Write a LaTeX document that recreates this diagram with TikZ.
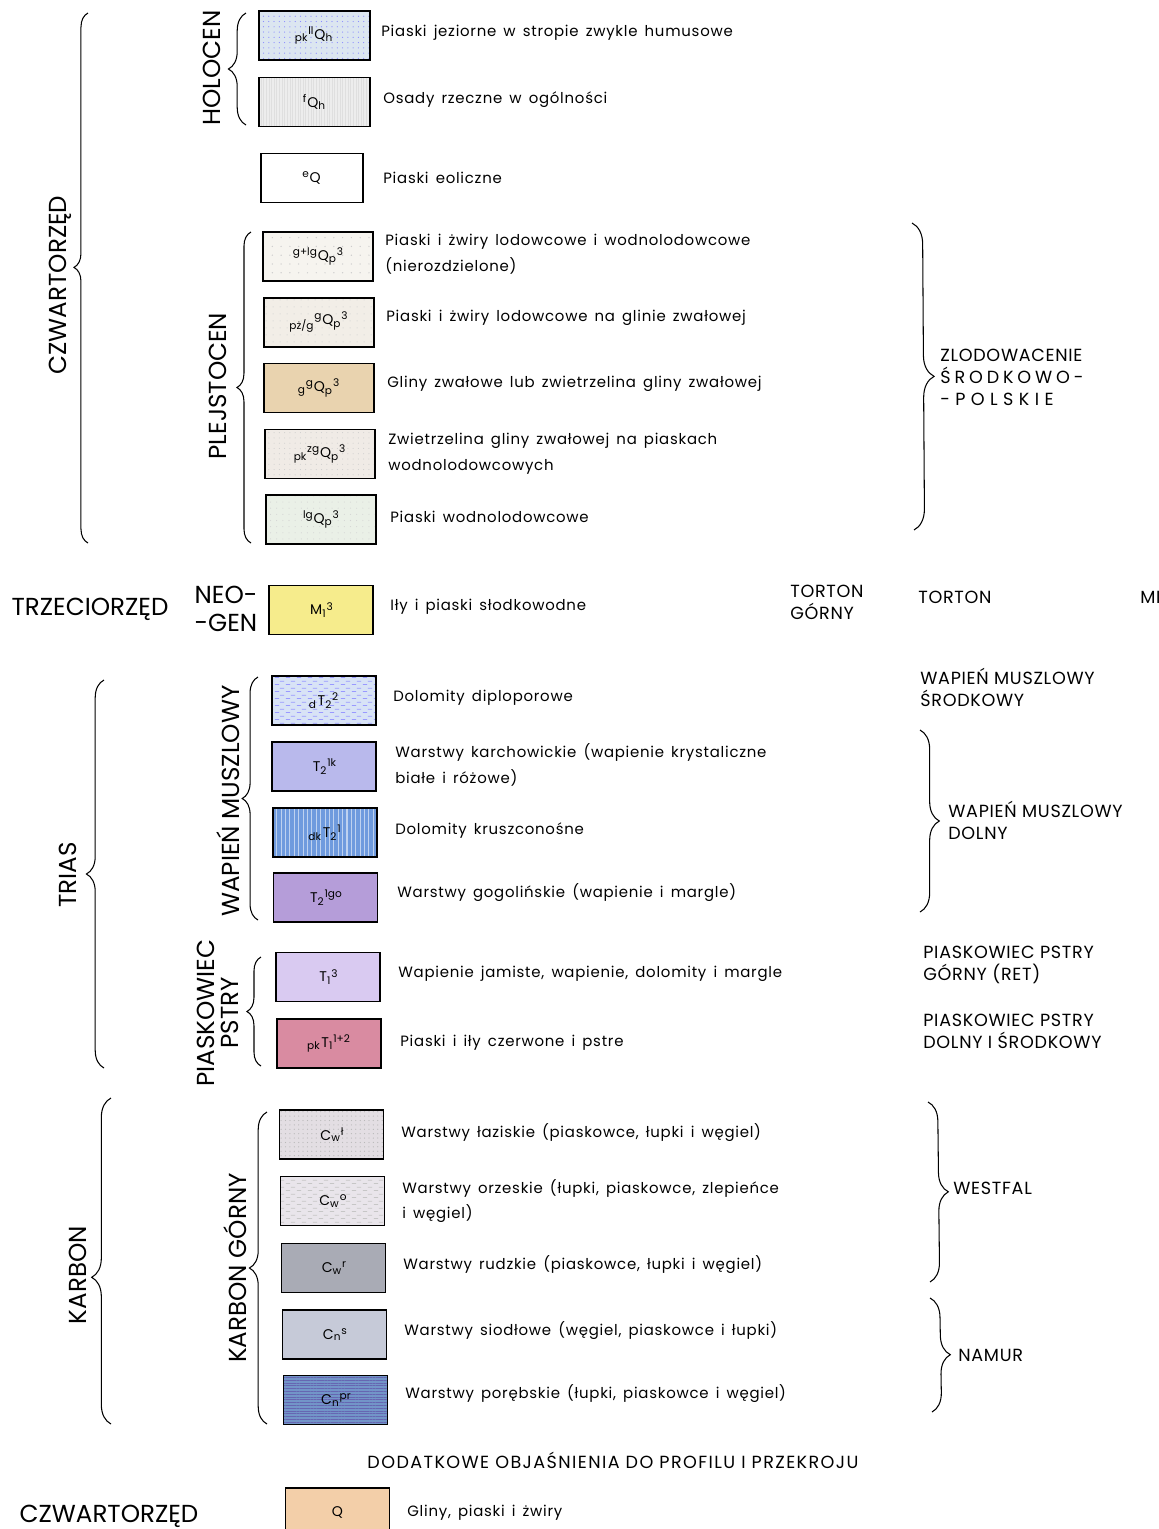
\documentclass[tikz,border=0pt]{standalone}
\usepackage{amsmath}
\usepackage{fontspec}
\setmainfont{Poppins}
\newfontfamily\descfont[LetterSpace=5,WordSpace=1.5]{Poppins}
\usetikzlibrary{decorations.pathreplacing,patterns,patterns.meta}

\definecolor{holoA}{HTML}{DCE6F0}
\definecolor{holoB}{HTML}{EDEDED}
\definecolor{plejA}{HTML}{F6F4EF}
\definecolor{plejB}{HTML}{F2EEE7}
\definecolor{plejC}{HTML}{E9D3AF}
\definecolor{plejD}{HTML}{F0EBE6}
\definecolor{plejE}{HTML}{EAF0E7}
\definecolor{neogen}{HTML}{F6EC8C}
\definecolor{wapA}{HTML}{D8E3F6}
\definecolor{wapB}{HTML}{B9B9EC}
\definecolor{wapC}{HTML}{6F9BDE}
\definecolor{wapD}{HTML}{B59DD9}
\definecolor{pstA}{HTML}{D9CAF1}
\definecolor{pstB}{HTML}{D98BA1}
\definecolor{karA}{HTML}{E3DEE3}
\definecolor{karB}{HTML}{E9E5EB}
\definecolor{karC}{HTML}{A9ABB5}
\definecolor{karD}{HTML}{C6CAD8}
\definecolor{karE}{HTML}{7295C8}
\definecolor{czwQ}{HTML}{F3CFA9}

\pgfdeclarepatternformonly{dashrows}{\pgfpoint{0pt}{0pt}}{\pgfpoint{6pt}{4pt}}{\pgfpoint{6pt}{4pt}}{%
  \pgfsetlinewidth{0.5pt}%
  \pgfpathmoveto{\pgfpoint{0.5pt}{1pt}}\pgfpathlineto{\pgfpoint{3pt}{1pt}}%
  \pgfpathmoveto{\pgfpoint{3.5pt}{3pt}}\pgfpathlineto{\pgfpoint{6pt}{3pt}}%
  \pgfusepath{stroke}}

\newcommand\lab[5]{${}_{\text{#1}}{}^{\text{#2}}\text{#3}_{\text{#4}}{}^{\text{#5}}$}

\begin{document}
\begin{tikzpicture}[x=0.02cm,y=-0.02cm,
    layer/.style={draw,line width=0.8pt,minimum width=2.08cm,minimum height=0.98cm,inner sep=0pt,font=\fontsize{8}{9}\selectfont},
    patt/.style n args={3}{preaction={fill=#1},preaction={pattern=#2,pattern color=#3}},
    desc/.style={anchor=west,inner sep=0pt,align=left,font=\descfont\fontsize{8.5}{14.7}\selectfont},
    era/.style={inner sep=0pt,align=center,font=\fontsize{14}{16}\selectfont},
    stage/.style={anchor=west,inner sep=0pt,align=left,font=\addfontfeatures{LetterSpace=4}\fontsize{10}{12.5}\selectfont},
    lbrace/.style={decorate,decoration={brace,amplitude=#1},line width=0.6pt},
    lbrace/.default=9pt]
\useasboundingbox (0,0) rectangle (1159,1529);

\node[layer,minimum width=2.22cm,patt={holoA}{{Dots[distance=3pt,radius=0.35pt]}}{blue!45}] (hol1) at (314.5,35.5) {\lab{pk}{ll}{Q}{h}{}};
\node[layer,minimum width=2.22cm,patt={holoB}{{Lines[angle=90,distance=1.5pt,line width=0.3pt]}}{gray!25}] (hol2) at (314.5,102) {\lab{}{f}{Q}{h}{}};
\node[layer,minimum width=2.04cm] (eol) at (312,178) {\lab{}{e}{Q}{}{}};
\node[layer,minimum width=2.2cm,patt={plejA}{{Dots[distance=5pt,radius=0.4pt]}}{gray!40}] (plej1) at (318,256.5) {\lab{}{g+lg}{Q}{p}{3}};
\node[layer,minimum width=2.2cm,patt={plejB}{{Dots[distance=4pt,radius=0.35pt]}}{gray!35}] (plej2) at (319,322.5) {\lab{pż/g}{g}{Q}{p}{3}};
\node[layer,minimum width=2.2cm,fill=plejC] (plej3) at (319,388) {\lab{g}{g}{Q}{p}{3}};
\node[layer,minimum width=2.2cm,patt={plejD}{{Dots[distance=3pt,radius=0.3pt]}}{gray!40}] (plej4) at (320,454) {\lab{pk}{zg}{Q}{p}{3}};
\node[layer,minimum width=2.2cm,patt={plejE}{{Dots[distance=3.5pt,radius=0.3pt]}}{gray!35}] (plej5) at (321,519.5) {\lab{}{lg}{Q}{p}{3}};

\node[layer,fill=neogen] (neo) at (321,610) {\lab{}{}{M}{1}{3}};

\node[layer,patt={wapA}{dashrows}{blue!40}] (wap1) at (324,700.5) {\lab{d}{}{T}{2}{2}};
\node[layer,fill=wapB] (wap2) at (324,766.5) {\lab{}{}{T}{2}{1k}};
\node[layer,patt={wapC}{{Lines[angle=90,distance=2.5pt,line width=0.6pt]}}{white!55!wapC}] (wap3) at (325,832.5) {\lab{dk}{}{T}{2}{1}};
\node[layer,fill=wapD] (wap4) at (325.5,897.5) {\lab{}{}{T}{2}{1go}};

\node[layer,fill=pstA] (pst1) at (328,977) {\lab{}{}{T}{1}{3}};
\node[layer,fill=pstB] (pst2) at (329,1043.5) {\lab{pk}{}{T}{1}{1+2}};

\node[layer,patt={karA}{{Dots[distance=2.5pt,radius=0.35pt]}}{gray!55}] (kar1) at (331.5,1134.5) {\lab{}{}{C}{w}{ł}};
\node[layer,patt={karB}{dashrows}{gray!45}] (kar2) at (332.5,1201) {\lab{}{}{C}{w}{o}};
\node[layer,fill=karC] (kar3) at (333.5,1268) {\lab{}{}{C}{w}{r}};
\node[layer,fill=karD] (kar4) at (334.5,1334.5) {\lab{}{}{C}{n}{s}};
\node[layer,patt={karE}{{Lines[angle=0,distance=1.6pt,line width=0.35pt]}}{blue!50!black!60}] (kar5) at (335.5,1400) {\lab{}{}{C}{n}{pr}};

\node[layer,fill=czwQ] (czwq) at (337.5,1512.5) {Q};

\node[desc] (t1) at (381,33) {Piaski jeziorne w stropie zwykle humusowe};
\node[desc] (t2) at (383,100) {Osady rzeczne w ogólności};
\node[desc] (t3) at (383,178) {Piaski eoliczne};
\node[desc] (t4) at (385,254) {Piaski i żwiry lodowcowe i wodnolodowcowe\\(nierozdzielone)};
\node[desc] (t5) at (386,318) {Piaski i żwiry lodowcowe na glinie zwałowej};
\node[desc] (t6) at (387,384) {Gliny zwałowe lub zwietrzelina gliny zwałowej};
\node[desc] (t7) at (388,454) {Zwietrzelina gliny zwałowej na piaskach\\wodnolodowcowych};
\node[desc] (t8) at (390,517) {Piaski wodnolodowcowe};
\node[desc] (t9) at (390,607) {Iły i piaski słodkowodne};
\node[desc] (t10) at (393,698) {Dolomity diploporowe};
\node[desc] (t11) at (395,765) {Warstwy karchowickie (wapienie krystaliczne\\białe i różowe)};
\node[desc] (t12) at (395,831) {Dolomity kruszconośne};
\node[desc] (t13) at (397,893) {Warstwy gogolińskie (wapienie i margle)};
\node[desc] (t14) at (398,974) {Wapienie jamiste, wapienie, dolomity i margle};
\node[desc] (t15) at (400,1043) {Piaski i iły czerwone i pstre};
\node[desc] (t16) at (401,1133) {Warstwy łaziskie (piaskowce, łupki i węgiel)};
\node[desc] (t17) at (402,1201) {Warstwy orzeskie (łupki, piaskowce, zlepieńce\\i węgiel)};
\node[desc] (t18) at (403,1265) {Warstwy rudzkie (piaskowce, łupki i węgiel)};
\node[desc] (t19) at (404,1331) {Warstwy siodłowe (węgiel, piaskowce i łupki)};
\node[desc] (t20) at (405,1394) {Warstwy porębskie (łupki, piaskowce i węgiel)};
\node[desc] (t21) at (407,1513) {Gliny, piaski i żwiry};

\draw[lbrace=8pt,decoration={aspect=0.52}] (88,543) -- (88,13);
\draw[lbrace=10pt] (246,125) -- (246,13);
\draw[lbrace=8pt] (251,543) -- (251,232);
\draw[lbrace=10pt] (104,1068) -- (104,680);
\draw[lbrace] (258,920) -- (258,677);
\draw[lbrace=8pt] (261,1066) -- (261,957);
\draw[lbrace=11pt,decoration={aspect=0.45}] (111,1424) -- (111,1098);
\draw[lbrace=10pt] (267,1424) -- (267,1112);

\draw[lbrace=12pt] (912,223) -- (914,530);
\draw[lbrace=11pt] (920,730) -- (920,912);
\draw[lbrace=11pt] (928,1102) -- (930,1282);
\draw[lbrace=11pt] (930,1298) -- (932,1412);

\node[era,rotate=90] (czw) at (60,285) {CZWARTORZĘD};
\node[era,rotate=90] (hol) at (212,68) {HOLOCEN};
\node[era,rotate=90] (plej) at (218,386) {PLEJSTOCEN};
\node[era] (trz) at (90,609) {TRZECIORZĘD};
\node[era,align=left] (neog) at (226,609) {NEO-\\-GEN};
\node[era,rotate=90] (trias) at (68,875) {TRIAS};
\node[era,rotate=90] (wap) at (228,801) {WAPIEŃ MUSZLOWY};
\node[era,rotate=90] (pst) at (218,1013) {PIASKOWIEC\\[-2pt]PSTRY};
\node[era,rotate=90] (kar) at (78,1275) {KARBON};
\node[era,rotate=90] (karg) at (235,1268) {KARBON GÓRNY};
\node[era] (czw2) at (109,1516) {CZWARTORZĘD};

\node[stage] (zlod) at (940,377) {ZLODOWACENIE\\{\addfontfeatures{LetterSpace=22}ŚRODKOWO-}\\- P O L S K I E};
\node[stage] (tortg) at (790,602) {TORTON\\GÓRNY};
\node[stage] (tort) at (918,597) {TORTON};
\node[stage] (mi) at (1140,597) {MI};
\node[stage] (wms) at (920,687) {WAPIEŃ MUSZLOWY\\ŚRODKOWY};
\node[stage] (wmd) at (948,820) {WAPIEŃ MUSZLOWY\\DOLNY};
\node[stage] (psg) at (923,965) {PIASKOWIEC PSTRY\\GÓRNY (RET)};
\node[stage] (psd) at (923,1031) {PIASKOWIEC PSTRY\\DOLNY I ŚRODKOWY};
\node[stage] (west) at (953,1188) {WESTFAL};
\node[stage] (nam) at (958,1355) {NAMUR};
\node[stage,anchor=center,font=\addfontfeatures{LetterSpace=8}\fontsize{10}{12.5}\selectfont] (dod) at (613,1460) {DODATKOWE OBJAŚNIENIA DO PROFILU I PRZEKROJU};
\end{tikzpicture}
\end{document}
